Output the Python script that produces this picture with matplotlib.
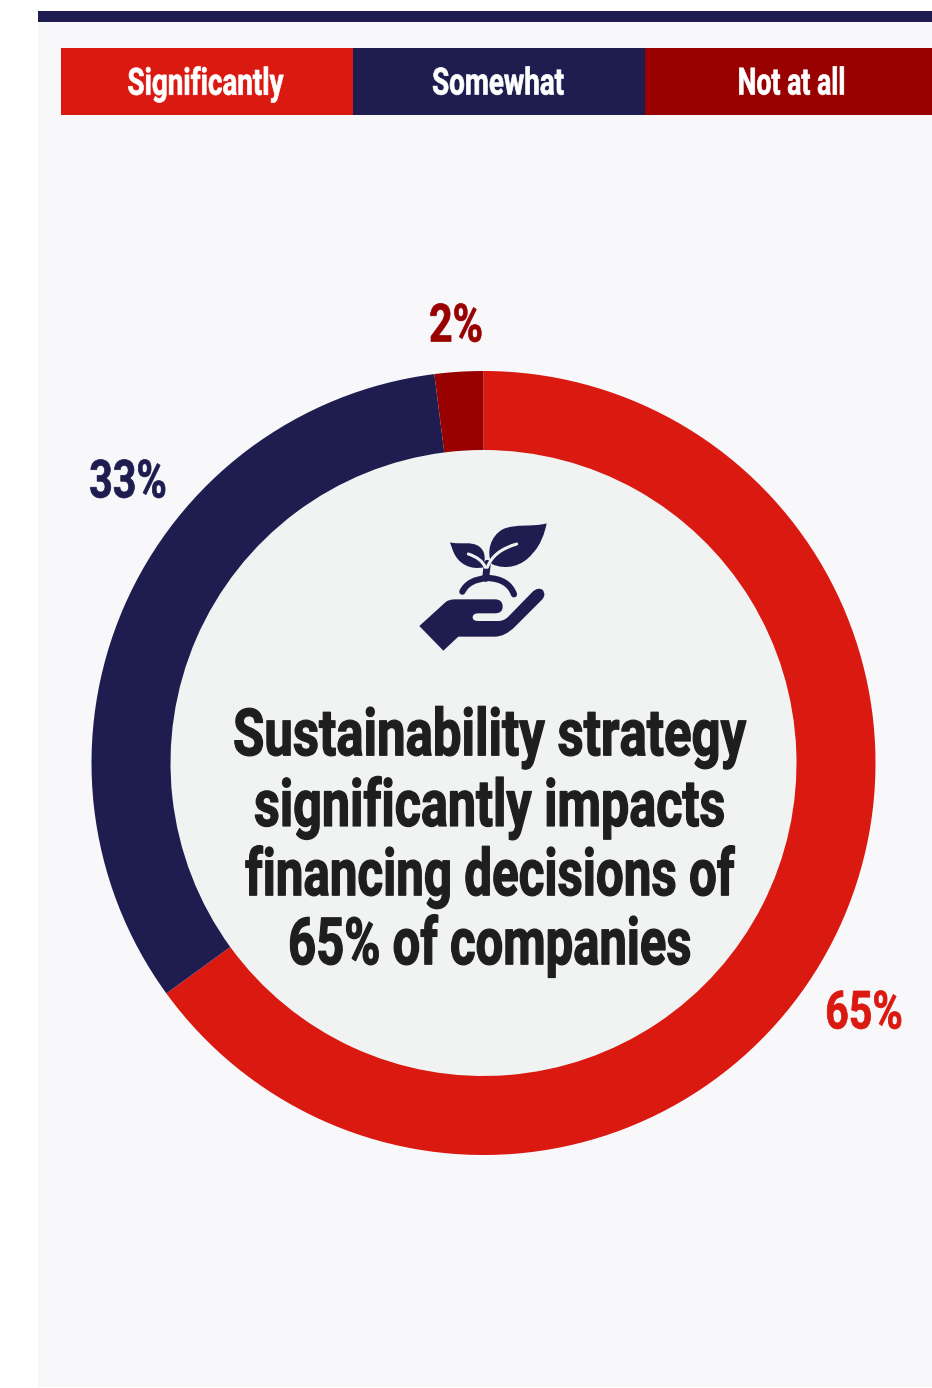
import matplotlib
matplotlib.use('Agg')
from matplotlib import pyplot as plt
from matplotlib.patches import Rectangle, PathPatch, Circle
from matplotlib.path import Path
from matplotlib.patheffects import AbstractPathEffect
from matplotlib.transforms import Affine2D

W, H = 932, 1388

categories = ['Significantly', 'Somewhat', 'Not at all']
shares = [65, 33, 2]
share_labels = ['65%', '33%', '2%']
colors = ['#da1911', '#1f1d50', '#990000']
title_lines = ['Sustainability strategy', 'significantly impacts',
               'financing decisions of', '65% of companies']

FONT = 'Roboto'

fig = plt.figure(figsize=(W / 100, H / 100), dpi=100, facecolor='white')
ax = fig.add_axes([0, 0, 1, 1])


def fy(y):
    # pixel rows count from the top, the axes from the bottom
    return H - y


class Condensed(AbstractPathEffect):
    # no condensed face is installed, so narrow the glyphs about a centre column
    def __init__(self, scale, centre, extra=0.0):
        super().__init__()
        self.scale = scale
        self.centre = centre
        self.extra = extra

    def draw_path(self, renderer, gc, tpath, affine, rgbFace=None):
        squeeze = Affine2D().translate(-self.centre, 0).scale(self.scale, 1).translate(self.centre, 0)
        gc0 = renderer.new_gc()
        gc0.copy_properties(gc)
        gc0.set_linewidth(self.extra)
        renderer.draw_path(gc0, tpath, affine + squeeze, rgbFace)
        gc0.restore()


def label(x, y, s, color, size, scale, extra=0.0):
    t = ax.text(x, fy(y), s, color=color, fontsize=size, fontweight='bold',
                family=FONT, ha='center', va='center')
    t.set_path_effects([Condensed(scale, x, extra)])


# panel, top rule, legend strip
ax.add_patch(Rectangle((38, fy(1387)), W - 38, 1365, fc='#f8f8fb', ec='none'))
ax.add_patch(Rectangle((38, fy(22)), W - 38, 11, fc='#1f1d50', ec='none'))
edges = [61, 353, 645, 932]
legend_x = [205.5, 498, 791.5]
legend_squeeze = [0.74, 0.74, 0.71]
for i in range(3):
    ax.add_patch(Rectangle((edges[i], fy(115)), edges[i + 1] - edges[i], 67,
                           fc=colors[i], ec='none'))
    label(legend_x[i], 84, categories[i], 'white', 27, legend_squeeze[i], 0.5)

# donut
cx, cy = 483.5, 763
ax.add_patch(Circle((cx, fy(cy)), 315, fc='#f1f3f3', ec='none'))
ax.pie(shares, colors=colors, startangle=90, counterclock=False, radius=392,
       center=(cx, fy(cy)), wedgeprops=dict(width=79, linewidth=0))

label_pos = [(864, 1014), (128, 483), (456, 327)]
for i in range(3):
    label(label_pos[i][0], label_pos[i][1], share_labels[i], colors[i], 38, 0.78, 0.5)

title_y = [738, 808, 877, 946]
title_squeeze = [0.78, 0.77, 0.755, 0.75]
for line, y, sq in zip(title_lines, title_y, title_squeeze):
    label(489.5, y, line, '#1e1e1e', 47, sq, 0.9)


# plant-in-hand icon, outlined on a 3x grid anchored at (400, 510)
def ip(x, y):
    return (400 + x / 3, fy(510 + y / 3))


def build(cmds):
    verts, codes = [], []
    for code, pts in cmds:
        for p in pts:
            verts.append(ip(*p))
            codes.append(code)
    return Path(verts, codes)


M, L, C, B = Path.MOVETO, Path.LINETO, Path.CURVE3, Path.CURVE4
NAVY = '#1f1d50'
# hand
ax.add_patch(PathPatch(build([
    (M, [(58, 348)]), (L, [(135, 278)]), (C, [(145, 268), (165, 268)]),
    (L, [(285, 268)]), (C, [(308, 268), (308, 290)]), (C, [(308, 310), (285, 310)]),
    (L, [(235, 310)]), (C, [(218, 310), (218, 322)]), (C, [(218, 333), (235, 333)]),
    (L, [(295, 333)]), (C, [(312, 333), (325, 320)]), (L, [(398, 245)]),
    (C, [(415, 230), (428, 240)]), (C, [(440, 255), (425, 270)]),
    (L, [(345, 350)]), (C, [(315, 380), (285, 380)]), (L, [(175, 380)]),
    (L, [(130, 422)]), (L, [(58, 348)])]), fc=NAVY, ec='none'))
# big leaf
ax.add_patch(PathPatch(build([
    (M, [(440, 40)]), (B, [(400, 52), (345, 40), (308, 58)]),
    (B, [(272, 78), (258, 125), (275, 162)]), (B, [(320, 182), (368, 168), (398, 130)]),
    (B, [(422, 105), (434, 70), (440, 40)])]), fc=NAVY, ec='none'))
# small leaf
ax.add_patch(PathPatch(build([
    (M, [(150, 97)]), (B, [(180, 105), (215, 92), (238, 110)]),
    (B, [(258, 125), (256, 150), (250, 172)]), (B, [(212, 180), (182, 162), (168, 140)]),
    (B, [(158, 125), (155, 110), (150, 97)])]), fc=NAVY, ec='none'))
# stem, soil mound and leaf veins
for cmds, col, lw in [
        ([(M, [(262, 160)]), (L, [(257, 205)])], NAVY, 5),
        ([(M, [(187, 245)]), (C, [(205, 208), (262, 204)]), (C, [(325, 206), (342, 253)])], NAVY, 4.5),
        ([(M, [(262, 172)]), (C, [(280, 122), (350, 102)])], '#f1f3f3', 2.2),
        ([(M, [(205, 132)]), (C, [(245, 145), (256, 172)])], '#f1f3f3', 2.2)]:
    ax.add_patch(PathPatch(build(cmds), fc='none', ec=col, lw=lw, capstyle='round'))

ax.set_xlim(0, W)
ax.set_ylim(0, H)
ax.set_aspect('auto')
ax.axis('off')

fig.savefig('out.png', dpi=100, facecolor='white')
